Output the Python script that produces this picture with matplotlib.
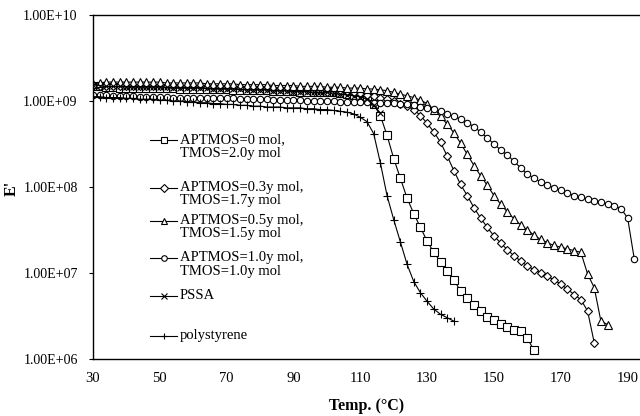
import matplotlib
matplotlib.use("Agg")
import matplotlib.pyplot as plt
from matplotlib.lines import Line2D

# temperature grid (deg C), every 2 degrees
temps = [30, 32, 34, 36, 38, 40, 42, 44, 46, 48,
         50, 52, 54, 56, 58, 60, 62, 64, 66, 68,
         70, 72, 74, 76, 78, 80, 82, 84, 86, 88,
         90, 92, 94, 96, 98, 100, 102, 104, 106, 108,
         110, 112, 114, 116, 118, 120, 122, 124, 126, 128,
         130, 132, 134, 136, 138, 140, 142, 144, 146, 148,
         150, 152, 154, 156, 158, 160, 162, 164, 166, 168,
         170, 172, 174, 176, 178, 180, 182, 184, 186, 188,
         190, 192]

# log10(E'), each series starts at 30 C
log_aptmos_0 = [9.18, 9.17, 9.16, 9.16, 9.15, 9.15, 9.15, 9.15, 9.15, 9.15,
                9.15, 9.15, 9.15, 9.14, 9.14, 9.14, 9.14, 9.14, 9.14, 9.14,
                9.14, 9.13, 9.13, 9.13, 9.13, 9.13, 9.13, 9.12, 9.12, 9.12,
                9.12, 9.11, 9.11, 9.11, 9.10, 9.10, 9.10, 9.09, 9.08, 9.07,
                9.06, 9.03, 8.96, 8.83, 8.60, 8.33, 8.10, 7.87, 7.69, 7.53,
                7.37, 7.24, 7.13, 7.02, 6.92, 6.79, 6.71, 6.63, 6.56, 6.49,
                6.45, 6.41, 6.37, 6.34, 6.32, 6.24, 6.10]

log_aptmos_03 = [9.18, 9.18, 9.18, 9.18, 9.18, 9.18, 9.18, 9.18, 9.18, 9.18,
                 9.18, 9.17, 9.17, 9.17, 9.17, 9.17, 9.17, 9.17, 9.16, 9.16,
                 9.16, 9.16, 9.16, 9.15, 9.15, 9.15, 9.15, 9.14, 9.14, 9.14,
                 9.13, 9.13, 9.13, 9.12, 9.12, 9.11, 9.11, 9.10, 9.10, 9.09,
                 9.08, 9.07, 9.06, 9.04, 9.02, 9.00, 8.97, 8.94, 8.90, 8.83,
                 8.74, 8.64, 8.52, 8.36, 8.19, 8.03, 7.90, 7.76, 7.64, 7.53,
                 7.43, 7.35, 7.27, 7.20, 7.14, 7.08, 7.04, 7.00, 6.96, 6.92,
                 6.87, 6.81, 6.75, 6.69, 6.56, 6.19]

log_aptmos_05 = [9.20, 9.21, 9.22, 9.22, 9.22, 9.22, 9.22, 9.22, 9.22, 9.22,
                 9.22, 9.21, 9.21, 9.21, 9.21, 9.21, 9.21, 9.20, 9.20, 9.20,
                 9.20, 9.20, 9.19, 9.19, 9.19, 9.19, 9.19, 9.18, 9.18, 9.18,
                 9.18, 9.17, 9.17, 9.17, 9.17, 9.16, 9.16, 9.16, 9.15, 9.15,
                 9.15, 9.14, 9.14, 9.13, 9.12, 9.10, 9.08, 9.06, 9.04, 9.01,
                 8.97, 8.90, 8.82, 8.73, 8.63, 8.51, 8.38, 8.25, 8.13, 8.02,
                 7.90, 7.80, 7.71, 7.63, 7.56, 7.50, 7.44, 7.39, 7.35, 7.32,
                 7.30, 7.28, 7.26, 7.24, 6.99, 6.83, 6.44, 6.40]

log_aptmos_10 = [9.07, 9.07, 9.07, 9.06, 9.06, 9.06, 9.06, 9.05, 9.05, 9.05,
                 9.05, 9.05, 9.04, 9.04, 9.04, 9.04, 9.04, 9.03, 9.03, 9.03,
                 9.03, 9.03, 9.02, 9.02, 9.02, 9.02, 9.02, 9.01, 9.01, 9.01,
                 9.01, 9.01, 9.00, 9.00, 9.00, 9.00, 9.00, 8.99, 8.99, 8.99,
                 8.99, 8.99, 8.98, 8.98, 8.98, 8.98, 8.97, 8.96, 8.95, 8.93,
                 8.92, 8.91, 8.88, 8.85, 8.82, 8.79, 8.75, 8.70, 8.64, 8.57,
                 8.50, 8.43, 8.37, 8.30, 8.22, 8.15, 8.10, 8.06, 8.02, 7.99,
                 7.96, 7.93, 7.90, 7.88, 7.86, 7.84, 7.82, 7.80, 7.78, 7.75,
                 7.64, 7.16]

log_pssa = [9.19, 9.18, 9.17, 9.17, 9.17, 9.16, 9.16, 9.16, 9.16, 9.16,
            9.16, 9.16, 9.15, 9.15, 9.15, 9.15, 9.15, 9.15, 9.14, 9.14,
            9.14, 9.14, 9.14, 9.13, 9.13, 9.13, 9.13, 9.12, 9.12, 9.12,
            9.11, 9.11, 9.11, 9.10, 9.10, 9.10, 9.09, 9.08, 9.07, 9.06,
            9.05, 9.02, 8.95, 8.86]

log_polystyrene = [9.05, 9.05, 9.04, 9.04, 9.04, 9.03, 9.03, 9.02, 9.02, 9.02,
                   9.01, 9.01, 9.00, 9.00, 8.99, 8.99, 8.98, 8.98, 8.97, 8.97,
                   8.96, 8.96, 8.95, 8.95, 8.94, 8.94, 8.93, 8.93, 8.93, 8.92,
                   8.92, 8.92, 8.91, 8.91, 8.90, 8.90, 8.89, 8.88, 8.87, 8.85,
                   8.81, 8.76, 8.62, 8.28, 7.90, 7.62, 7.36, 7.10, 6.90, 6.77,
                   6.67, 6.58, 6.52, 6.48, 6.44]

labels = ["APTMOS=0 mol,\nTMOS=2.0y mol",
          "APTMOS=0.3y mol,\nTMOS=1.7y mol",
          "APTMOS=0.5y mol,\nTMOS=1.5y mol",
          "APTMOS=1.0y mol,\nTMOS=1.0y mol",
          "PSSA",
          "polystyrene"]

series = [log_aptmos_0, log_aptmos_03, log_aptmos_05, log_aptmos_10, log_pssa, log_polystyrene]
markers = ["s", "D", "^", "o", "x", "+"]
msizes = [5.5, 3.6, 5.5, 4.6, 5, 6]

plt.rcParams["font.family"] = ["Liberation Serif", "DejaVu Serif"]

fig = plt.figure(figsize=(6.4, 4.16), dpi=100)
ax = fig.add_axes([93 / 640, 57 / 416, 548 / 640, 344 / 416])

for vals, mk, ms in zip(series, markers, msizes):
    t = temps[:len(vals)]
    e = [10 ** v for v in vals]
    ax.plot(t, e, color="black", linewidth=0.8, marker=mk, markersize=ms,
            markerfacecolor="white", markeredgecolor="black", markeredgewidth=0.8)

ax.set_yscale("log")
ax.set_xlim(30, 194)
ax.set_ylim(1e6, 1e10)
ax.set_xticks([30, 50, 70, 90, 110, 130, 150, 170, 190])
ax.set_yticks([1e6, 1e7, 1e8, 1e9, 1e10])
ax.set_yticklabels(["1.00E+06", "1.00E+07", "1.00E+08", "1.00E+09", "1.00E+10"])
ax.minorticks_off()
ax.tick_params(axis="y", length=3, width=0.8, pad=8, labelsize=10)
ax.tick_params(axis="x", length=0, pad=9, labelsize=10.5)
ax.spines["right"].set_visible(False)
for s in ["left", "top", "bottom"]:
    ax.spines[s].set_linewidth(1.0)

ax.set_xlabel("Temp. (\u00b0C)", fontsize=11.5, fontweight="bold", labelpad=10)
fig.text(12 / 640, 1 - 188 / 416, "E'", rotation=90, fontsize=11.5, fontweight="bold",
         ha="center", va="center")

# hand-placed legend (handle sits on first text line)
leg_y = [140, 188, 221, 258, 296, 336]
for lab, mk, y in zip(labels, markers, leg_y):
    fy = 1 - y / 416
    fig.add_artist(Line2D([150 / 640, 177 / 640], [fy, fy], color="black", linewidth=0.8,
                          transform=fig.transFigure))
    fig.add_artist(Line2D([163.5 / 640], [fy], marker=mk, markersize=5 if mk in "sx+" else 4,
                          markerfacecolor="white", markeredgecolor="black", markeredgewidth=0.8,
                          color="black", transform=fig.transFigure))
    fig.text(180 / 640, fy + 7 / 416, lab, fontsize=10.5, ha="left", va="top",
             linespacing=1.05, transform=fig.transFigure)

fig.savefig("out.png", dpi=100)
